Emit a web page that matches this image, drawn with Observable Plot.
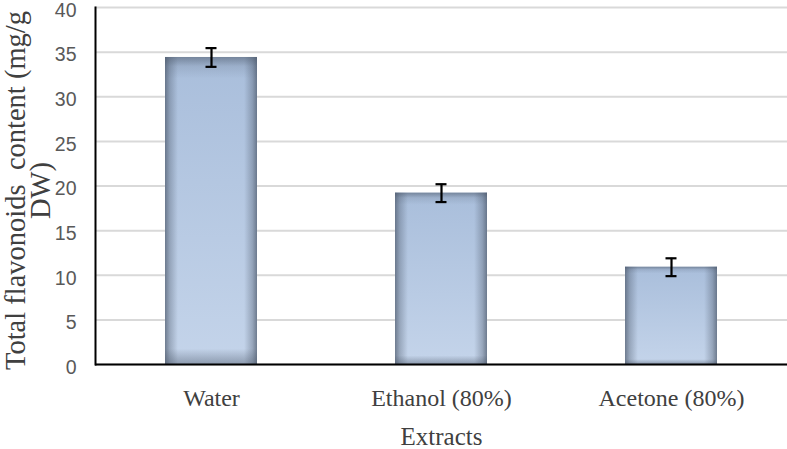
<!DOCTYPE html>
<html>
<head>
<meta charset="utf-8">
<script src="https://cdn.jsdelivr.net/npm/d3@7"></script>
<script src="https://cdn.jsdelivr.net/npm/@observablehq/plot@0.6"></script>
<style>
  html, body { margin: 0; padding: 0; background: #fff; }
</style>
</head>
<body>
<div id="chart"></div>
<script>
const extracts = ["Water", "Ethanol (80%)", "Acetone (80%)"];
const flavonoids = [34.4, 19.2, 10.9];
const errors = [1.05, 1.0, 1.0];
const yTicks = [0, 5, 10, 15, 20, 25, 30, 35, 40];
const yTitle = "Total flavonoids  content (mg/g\nDW)";
const xTitle = "Extracts";

const data = extracts.map((e, i) => ({extract: e, value: flavonoids[i], err: errors[i]}));

const serif = "'Liberation Serif', 'Times New Roman', serif";
const sans = "'Liberation Sans', Arial, sans-serif";

const plot = Plot.plot({
  width: 787,
  height: 449,
  marginLeft: 95,
  marginRight: 0,
  marginTop: 7,
  marginBottom: 85,
  style: {background: "#fff", overflow: "visible"},
  x: {domain: extracts, paddingInner: 0.6, paddingOuter: 0.3, label: null},
  y: {domain: [0, 40], label: null},
  marks: [
    Plot.gridY(yTicks, {stroke: "#d9d9d9", strokeWidth: 2, strokeOpacity: 1}),
    Plot.barY(data, {x: "extract", y: "value", fill: "url(#barBase)"}),
    Plot.barY(data, {x: "extract", y: "value", fill: "url(#barEdgeH)"}),
    Plot.barY(data, {x: "extract", y: "value", fill: "url(#barEdgeV)"}),
    Plot.ruleY([0], {stroke: "#000", strokeWidth: 2}),
    Plot.frame({anchor: "left", stroke: "#000", strokeWidth: 2}),
    Plot.ruleX(data, {x: "extract", y1: d => d.value - d.err, y2: d => d.value + d.err, stroke: "#000", strokeWidth: 2.2}),
    Plot.tickY(data, {x: "extract", y: d => d.value - d.err, stroke: "#000", strokeWidth: 2.2, insetLeft: 40.5, insetRight: 40.5}),
    Plot.tickY(data, {x: "extract", y: d => d.value + d.err, stroke: "#000", strokeWidth: 2.2, insetLeft: 40.5, insetRight: 40.5}),
    Plot.axisY(yTicks, {tickSize: 0, tickPadding: 19, fontSize: 19.5, dy: 3, fontFamily: sans, fill: "#595959", label: null}),
    Plot.axisX({tickSize: 0, tickPadding: 24, fontSize: 24, fontFamily: serif, fill: "#404040", label: null}),
    Plot.text([xTitle], {frameAnchor: "bottom", lineAnchor: "top", dy: 63, fontSize: 25, fontFamily: serif, fill: "#404040"}),
    Plot.text([yTitle], {frameAnchor: "left", rotate: -90, dx: -66, dy: 4.5, fontSize: 28.5, lineHeight: 0.877, fontFamily: serif, fill: "#404040", textAnchor: "middle", lineAnchor: "middle"})
  ]
});

const svg = d3.select(plot);
const defs = svg.insert("defs", ":first-child");
const base = defs.append("linearGradient").attr("id", "barBase").attr("x1", 0).attr("y1", 0).attr("x2", 0).attr("y2", 1);
base.append("stop").attr("offset", 0).attr("stop-color", "#a9bedb");
base.append("stop").attr("offset", 1).attr("stop-color", "#c4d4ea");
const eh = defs.append("linearGradient").attr("id", "barEdgeH").attr("x1", 0).attr("y1", 0).attr("x2", 1).attr("y2", 0);
[[0, 0.7], [0.05, 0.35], [0.14, 0.0], [0.86, 0.0], [0.95, 0.35], [1, 0.7]].forEach(([o, a]) => {
  eh.append("stop").attr("offset", o).attr("stop-color", "#4a5668").attr("stop-opacity", a);
});
const ev = defs.append("linearGradient").attr("id", "barEdgeV").attr("x1", 0).attr("y1", 0).attr("x2", 0).attr("y2", 1);
[[0, 0.55], [0.03, 0.15], [0.07, 0.0], [0.95, 0.0], [1, 0.45]].forEach(([o, a]) => {
  ev.append("stop").attr("offset", o).attr("stop-color", "#4a5668").attr("stop-opacity", a);
});

document.getElementById("chart").appendChild(plot);
</script>
</body>
</html>
